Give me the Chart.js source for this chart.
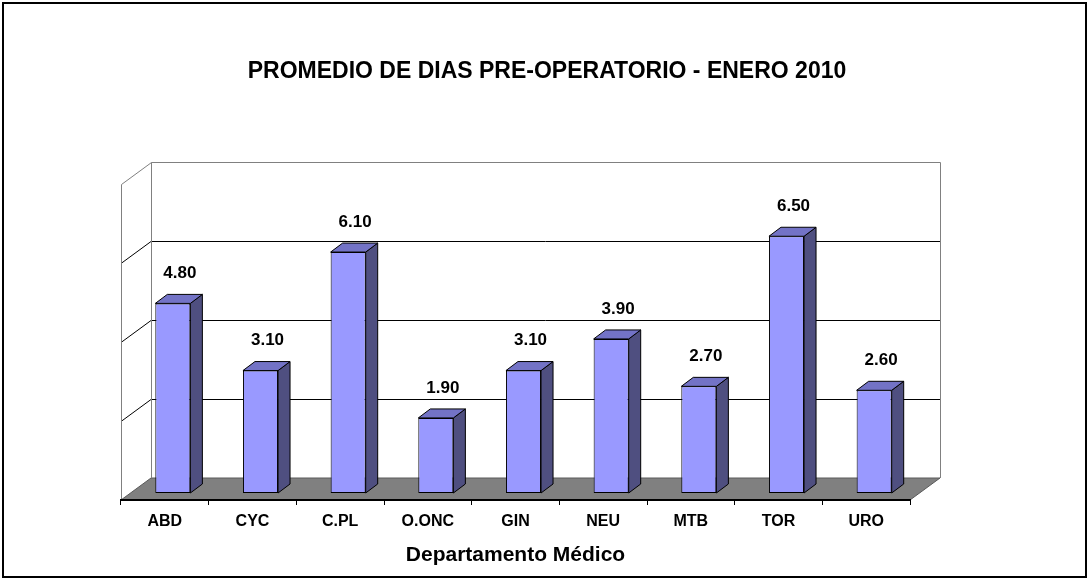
<!DOCTYPE html>
<html>
<head>
<meta charset="utf-8">
<script src="https://cdn.jsdelivr.net/npm/chart.js@4.4.1/dist/chart.umd.min.js"></script>
<style>
  html, body { margin: 0; padding: 0; background: #fff; }
  #wrap { width: 1089px; height: 580px; }
</style>
</head>
<body>
<div id="wrap"><canvas id="chart" width="1089" height="580"></canvas></div>
<script>
const departamentos = ['ABD', 'CYC', 'C.PL', 'O.ONC', 'GIN', 'NEU', 'MTB', 'TOR', 'URO'];
const promedioDias = [4.8, 3.1, 6.1, 1.9, 3.1, 3.9, 2.7, 6.5, 2.6];
const gridValues = [2, 4, 6];
const yMin = 0;
const yMax = 8;

const FONT = '"Liberation Sans", Arial, sans-serif';
const WALL_DX = 30, WALL_DY = -22;   // depth of the back wall
const BAR_DX = 8, BAR_DY = -7;       // bars sit a little behind the front edge
const SIDE_DX = 12, SIDE_DY = -9;    // bar depth

// walls, floor and gridlines go under everything
const walls3d = {
  id: 'walls3d',
  beforeDraw(chart) {
    const { ctx, scales: { x, y } } = chart;
    const left = x.left, right = x.right;
    const y0 = y.getPixelForValue(yMin);
    const yTop = y.getPixelForValue(yMax);
    ctx.save();
    ctx.fillStyle = '#fff';
    ctx.fillRect(0, 0, chart.width, chart.height);

    // floor
    ctx.beginPath();
    ctx.moveTo(left, y0);
    ctx.lineTo(right, y0);
    ctx.lineTo(right + WALL_DX, y0 + WALL_DY);
    ctx.lineTo(left + WALL_DX, y0 + WALL_DY);
    ctx.closePath();
    ctx.fillStyle = '#808080';
    ctx.fill();
    ctx.strokeStyle = '#5a5a5a';
    ctx.lineWidth = 1;
    ctx.stroke();

    // gridlines on back wall + side wall
    ctx.strokeStyle = '#000';
    ctx.lineWidth = 1;
    gridValues.forEach((v) => {
      const py = Math.round(y.getPixelForValue(v)) + 0.5;
      ctx.beginPath();
      ctx.moveTo(left, py);
      ctx.lineTo(left + WALL_DX, py + WALL_DY);
      ctx.lineTo(right + WALL_DX, py + WALL_DY);
      ctx.stroke();
    });

    // wall edges
    ctx.strokeStyle = '#808080';
    const lx = Math.round(left) + 0.5;
    const bx = Math.round(left + WALL_DX) + 0.5;
    const rx = Math.round(right + WALL_DX) + 0.5;
    const ty = Math.round(yTop) + 0.5;
    ctx.beginPath();
    ctx.moveTo(lx, y0);
    ctx.lineTo(lx, ty);
    ctx.lineTo(bx, ty + WALL_DY);
    ctx.lineTo(rx, ty + WALL_DY);
    ctx.lineTo(rx, y0 + WALL_DY);
    ctx.moveTo(bx, ty + WALL_DY);
    ctx.lineTo(bx, y0 + WALL_DY);
    ctx.stroke();
    ctx.restore();
  },
  afterDraw(chart) {
    const { ctx } = chart;
    ctx.save();
    ctx.strokeStyle = '#000';
    ctx.lineWidth = 2;
    ctx.strokeRect(3, 3, chart.width - 6, chart.height - 6);
    ctx.restore();
  }
};

// shift bars back, add side/top faces and value labels
const bars3d = {
  id: 'bars3d',
  beforeDatasetsDraw(chart) {
    chart.ctx.save();
    chart.ctx.translate(BAR_DX, BAR_DY);
  },
  afterDatasetsDraw(chart) {
    const { ctx } = chart;
    const meta = chart.getDatasetMeta(0);
    ctx.lineWidth = 1;
    ctx.strokeStyle = '#000';
    meta.data.forEach((bar, i) => {
      const { x, y, base, width } = bar.getProps(['x', 'y', 'base', 'width'], true);
      const l = x - width / 2, r = x + width / 2;
      // side
      ctx.beginPath();
      ctx.moveTo(r, y);
      ctx.lineTo(r + SIDE_DX, y + SIDE_DY);
      ctx.lineTo(r + SIDE_DX, base + SIDE_DY);
      ctx.lineTo(r, base);
      ctx.closePath();
      ctx.fillStyle = '#4f4f80';
      ctx.fill();
      ctx.stroke();
      // top
      ctx.beginPath();
      ctx.moveTo(l, y);
      ctx.lineTo(l + SIDE_DX, y + SIDE_DY);
      ctx.lineTo(r + SIDE_DX, y + SIDE_DY);
      ctx.lineTo(r, y);
      ctx.closePath();
      ctx.fillStyle = '#7373c6';
      ctx.fill();
      ctx.stroke();
      // label
      ctx.fillStyle = '#000';
      ctx.font = 'bold 17px ' + FONT;
      ctx.textAlign = 'center';
      ctx.textBaseline = 'middle';
      ctx.fillText(promedioDias[i].toFixed(2), x + 7, y - 30);
    });
    ctx.restore();
  }
};

const hiddenAxis = (w) => ({
  display: true,
  afterFit(scale) { scale.width = w; },
  grid: { display: false },
  border: { display: false },
  ticks: { display: false },
});

new Chart(document.getElementById('chart'), {
  type: 'bar',
  data: {
    labels: departamentos,
    datasets: [{
      data: promedioDias,
      backgroundColor: '#9999ff',
      borderColor: '#000',
      borderWidth: 1,
      borderSkipped: false,
      categoryPercentage: 1,
      barPercentage: 0.4,
    }],
  },
  options: {
    responsive: false,
    animation: false,
    devicePixelRatio: 1,
    layout: { padding: { left: 5, right: 0, top: 0, bottom: 0 } },
    plugins: {
      legend: { display: false },
      tooltip: { enabled: false },
      title: {
        display: true,
        text: 'PROMEDIO DE DIAS PRE-OPERATORIO - ENERO 2010',
        color: '#000',
        font: { family: FONT, size: 23, weight: 'bold', lineHeight: 1.2 },
        padding: { top: 58, bottom: 98.4 },
      },
    },
    scales: {
      x: {
        afterFit(scale) { scale.height = 80; },
        grid: { drawOnChartArea: false, drawTicks: true, tickLength: 5, color: '#000', lineWidth: 1 },
        border: { color: '#000', width: 2 },
        ticks: { color: '#000', padding: 7, font: { family: FONT, size: 16, weight: 'bold' } },
        title: {
          display: true,
          text: 'Departamento Médico',
          color: '#000',
          font: { family: FONT, size: 21, weight: 'bold', lineHeight: 1.2 },
          padding: { top: 4, bottom: 12 },
        },
      },
      y: Object.assign(hiddenAxis(116), { position: 'left', min: yMin, max: yMax }),
      yRight: Object.assign(hiddenAxis(179), { type: 'linear', position: 'right', min: yMin, max: yMax }),
    },
  },
  plugins: [walls3d, bars3d],
});
</script>
</body>
</html>
